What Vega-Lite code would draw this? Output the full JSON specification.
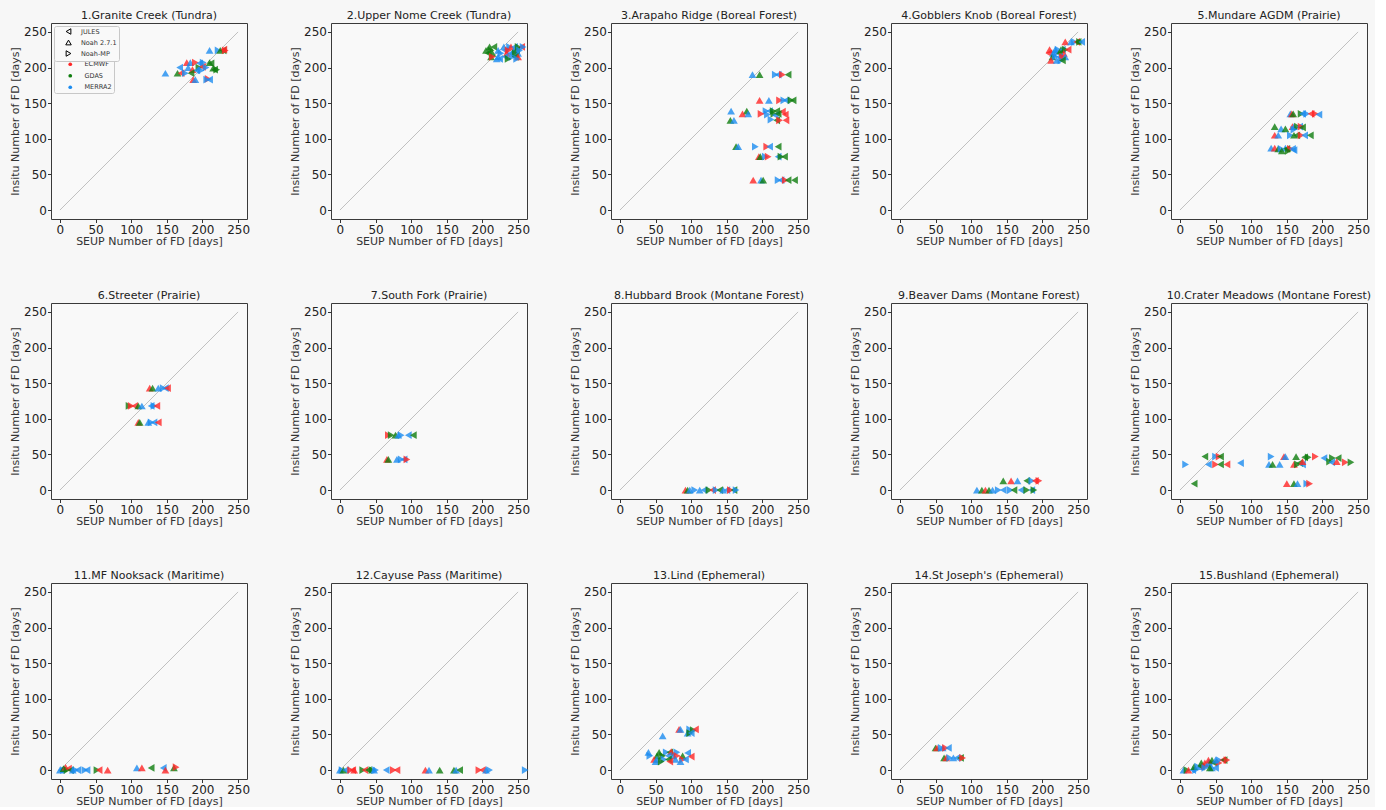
{
"$schema": "https://vega.github.io/schema/vega-lite/v6.json",
"background": "#f7f7f7",
"padding": {"left": 9, "top": 9, "right": 3, "bottom": 0},
"datasets": {
"diag": [{"x": 0, "y": 0}, {"x": 250, "y": 250}],
"pts": [
{"p":1,"m":"N","f":"R","x":210,"y":224},{"p":1,"m":"M","f":"R","x":222,"y":224},{"p":1,"m":"N","f":"G","x":225,"y":224},{"p":1,"m":"J","f":"G","x":229,"y":224},{"p":1,"m":"M","f":"E","x":232,"y":224},{"p":1,"m":"J","f":"E","x":230,"y":225},
{"p":1,"m":"N","f":"E","x":178,"y":207},{"p":1,"m":"N","f":"R","x":183,"y":207},{"p":1,"m":"M","f":"E","x":190,"y":207},{"p":1,"m":"J","f":"R","x":196,"y":206},{"p":1,"m":"M","f":"R","x":201,"y":207},{"p":1,"m":"N","f":"G","x":210,"y":207},{"p":1,"m":"J","f":"G","x":212,"y":206},
{"p":1,"m":"J","f":"R","x":168,"y":200},{"p":1,"m":"N","f":"R","x":180,"y":200},{"p":1,"m":"M","f":"G","x":195,"y":200},{"p":1,"m":"J","f":"E","x":200,"y":201},{"p":1,"m":"M","f":"R","x":205,"y":200},{"p":1,"m":"N","f":"G","x":215,"y":199},
{"p":1,"m":"M","f":"G","x":220,"y":197},{"p":1,"m":"J","f":"G","x":217,"y":197},{"p":1,"m":"N","f":"E","x":186,"y":197},{"p":1,"m":"J","f":"R","x":192,"y":196},{"p":1,"m":"M","f":"R","x":198,"y":196},
{"p":1,"m":"N","f":"R","x":148,"y":192},{"p":1,"m":"N","f":"G","x":165,"y":192},{"p":1,"m":"J","f":"E","x":170,"y":192},{"p":1,"m":"M","f":"R","x":176,"y":192},{"p":1,"m":"J","f":"G","x":184,"y":192},
{"p":1,"m":"N","f":"E","x":187,"y":183},{"p":1,"m":"N","f":"R","x":190,"y":183},{"p":1,"m":"M","f":"E","x":208,"y":184},{"p":1,"m":"M","f":"R","x":206,"y":183},{"p":1,"m":"J","f":"R","x":210,"y":183},

{"p":2,"m":"N","f":"G","x":210,"y":229},{"p":2,"m":"J","f":"G","x":216,"y":229},{"p":2,"m":"N","f":"R","x":230,"y":229},{"p":2,"m":"M","f":"R","x":238,"y":229},{"p":2,"m":"N","f":"E","x":240,"y":229},{"p":2,"m":"J","f":"R","x":245,"y":229},{"p":2,"m":"M","f":"G","x":250,"y":229},{"p":2,"m":"J","f":"E","x":255,"y":229},{"p":2,"m":"M","f":"R","x":257,"y":229},
{"p":2,"m":"N","f":"G","x":205,"y":224},{"p":2,"m":"M","f":"G","x":212,"y":224},{"p":2,"m":"N","f":"R","x":222,"y":224},{"p":2,"m":"J","f":"R","x":232,"y":224},{"p":2,"m":"M","f":"E","x":236,"y":224},{"p":2,"m":"N","f":"R","x":244,"y":224},{"p":2,"m":"J","f":"G","x":248,"y":224},{"p":2,"m":"M","f":"R","x":252,"y":224},
{"p":2,"m":"J","f":"G","x":208,"y":220},{"p":2,"m":"N","f":"G","x":214,"y":220},{"p":2,"m":"M","f":"R","x":226,"y":220},{"p":2,"m":"N","f":"E","x":234,"y":220},{"p":2,"m":"J","f":"R","x":240,"y":220},{"p":2,"m":"M","f":"G","x":246,"y":220},{"p":2,"m":"N","f":"R","x":250,"y":220},
{"p":2,"m":"N","f":"G","x":212,"y":215},{"p":2,"m":"M","f":"E","x":214,"y":215},{"p":2,"m":"N","f":"R","x":222,"y":215},{"p":2,"m":"J","f":"R","x":232,"y":215},{"p":2,"m":"M","f":"R","x":242,"y":215},{"p":2,"m":"J","f":"G","x":246,"y":215},{"p":2,"m":"N","f":"E","x":250,"y":215},
{"p":2,"m":"N","f":"R","x":220,"y":212},{"p":2,"m":"J","f":"R","x":224,"y":212},{"p":2,"m":"M","f":"G","x":236,"y":212},{"p":2,"m":"M","f":"R","x":248,"y":212},

{"p":3,"m":"N","f":"R","x":186,"y":190},{"p":3,"m":"N","f":"G","x":196,"y":190},{"p":3,"m":"M","f":"R","x":218,"y":190},{"p":3,"m":"J","f":"R","x":222,"y":190},{"p":3,"m":"M","f":"E","x":228,"y":190},{"p":3,"m":"J","f":"G","x":236,"y":190},
{"p":3,"m":"N","f":"E","x":196,"y":154},{"p":3,"m":"N","f":"R","x":209,"y":154},{"p":3,"m":"M","f":"E","x":224,"y":154},{"p":3,"m":"M","f":"R","x":230,"y":154},{"p":3,"m":"J","f":"R","x":233,"y":154},{"p":3,"m":"M","f":"G","x":240,"y":154},{"p":3,"m":"J","f":"G","x":243,"y":154},
{"p":3,"m":"N","f":"R","x":156,"y":139},{"p":3,"m":"N","f":"G","x":178,"y":139},{"p":3,"m":"M","f":"R","x":205,"y":139},{"p":3,"m":"J","f":"R","x":210,"y":139},{"p":3,"m":"M","f":"G","x":215,"y":139},{"p":3,"m":"J","f":"G","x":220,"y":139},{"p":3,"m":"J","f":"E","x":228,"y":138},
{"p":3,"m":"N","f":"E","x":172,"y":135},{"p":3,"m":"N","f":"R","x":180,"y":135},{"p":3,"m":"M","f":"E","x":198,"y":135},{"p":3,"m":"M","f":"R","x":207,"y":134},{"p":3,"m":"M","f":"G","x":216,"y":135},{"p":3,"m":"J","f":"R","x":218,"y":133},{"p":3,"m":"J","f":"G","x":222,"y":135},{"p":3,"m":"J","f":"E","x":232,"y":134},
{"p":3,"m":"N","f":"G","x":155,"y":126},{"p":3,"m":"N","f":"R","x":160,"y":126},{"p":3,"m":"M","f":"R","x":212,"y":127},{"p":3,"m":"J","f":"G","x":220,"y":126},{"p":3,"m":"M","f":"E","x":224,"y":126},{"p":3,"m":"J","f":"E","x":233,"y":126},
{"p":3,"m":"N","f":"G","x":163,"y":89},{"p":3,"m":"N","f":"R","x":166,"y":89},{"p":3,"m":"M","f":"R","x":190,"y":89},{"p":3,"m":"M","f":"E","x":206,"y":89},{"p":3,"m":"J","f":"R","x":210,"y":89},{"p":3,"m":"J","f":"G","x":222,"y":89},
{"p":3,"m":"N","f":"E","x":195,"y":75},{"p":3,"m":"N","f":"G","x":197,"y":75},{"p":3,"m":"M","f":"R","x":204,"y":75},{"p":3,"m":"M","f":"E","x":208,"y":75},{"p":3,"m":"J","f":"R","x":222,"y":75},{"p":3,"m":"M","f":"G","x":226,"y":75},{"p":3,"m":"J","f":"G","x":231,"y":75},
{"p":3,"m":"N","f":"E","x":187,"y":42},{"p":3,"m":"N","f":"R","x":198,"y":42},{"p":3,"m":"N","f":"G","x":201,"y":42},{"p":3,"m":"M","f":"R","x":222,"y":42},{"p":3,"m":"J","f":"R","x":226,"y":42},{"p":3,"m":"M","f":"E","x":232,"y":42},{"p":3,"m":"J","f":"G","x":236,"y":42},{"p":3,"m":"J","f":"G","x":245,"y":42},

{"p":4,"m":"N","f":"E","x":232,"y":236},{"p":4,"m":"N","f":"R","x":240,"y":236},{"p":4,"m":"M","f":"R","x":245,"y":236},{"p":4,"m":"J","f":"E","x":248,"y":236},{"p":4,"m":"J","f":"G","x":250,"y":236},{"p":4,"m":"M","f":"G","x":252,"y":236},{"p":4,"m":"J","f":"R","x":255,"y":236},
{"p":4,"m":"N","f":"E","x":210,"y":225},{"p":4,"m":"N","f":"R","x":218,"y":225},{"p":4,"m":"M","f":"R","x":222,"y":225},{"p":4,"m":"N","f":"G","x":226,"y":225},{"p":4,"m":"J","f":"R","x":228,"y":225},{"p":4,"m":"M","f":"G","x":232,"y":225},{"p":4,"m":"J","f":"E","x":236,"y":225},
{"p":4,"m":"J","f":"E","x":209,"y":220},{"p":4,"m":"N","f":"R","x":215,"y":220},{"p":4,"m":"M","f":"R","x":220,"y":220},{"p":4,"m":"J","f":"G","x":224,"y":220},{"p":4,"m":"N","f":"E","x":230,"y":220},
{"p":4,"m":"N","f":"G","x":214,"y":215},{"p":4,"m":"M","f":"R","x":218,"y":215},{"p":4,"m":"J","f":"R","x":224,"y":215},{"p":4,"m":"M","f":"E","x":228,"y":215},{"p":4,"m":"N","f":"R","x":232,"y":215},
{"p":4,"m":"N","f":"E","x":212,"y":210},{"p":4,"m":"N","f":"R","x":220,"y":210},{"p":4,"m":"M","f":"R","x":226,"y":210},{"p":4,"m":"J","f":"G","x":228,"y":210},

{"p":5,"m":"N","f":"R","x":155,"y":135},{"p":5,"m":"N","f":"E","x":157,"y":135},{"p":5,"m":"N","f":"G","x":159,"y":135},{"p":5,"m":"M","f":"G","x":170,"y":135},{"p":5,"m":"J","f":"R","x":172,"y":135},{"p":5,"m":"M","f":"R","x":178,"y":135},{"p":5,"m":"J","f":"E","x":184,"y":135},{"p":5,"m":"M","f":"E","x":190,"y":135},{"p":5,"m":"J","f":"R","x":195,"y":134},
{"p":5,"m":"N","f":"G","x":133,"y":117},{"p":5,"m":"N","f":"E","x":158,"y":117},{"p":5,"m":"N","f":"R","x":160,"y":117},{"p":5,"m":"M","f":"G","x":165,"y":117},{"p":5,"m":"J","f":"R","x":168,"y":117},{"p":5,"m":"M","f":"E","x":170,"y":117},{"p":5,"m":"J","f":"G","x":172,"y":116},
{"p":5,"m":"N","f":"R","x":142,"y":114},{"p":5,"m":"N","f":"G","x":148,"y":114},{"p":5,"m":"M","f":"R","x":160,"y":113},
{"p":5,"m":"N","f":"E","x":133,"y":105},{"p":5,"m":"N","f":"R","x":138,"y":105},{"p":5,"m":"M","f":"R","x":155,"y":105},{"p":5,"m":"N","f":"G","x":160,"y":105},{"p":5,"m":"J","f":"G","x":164,"y":105},{"p":5,"m":"M","f":"E","x":170,"y":105},{"p":5,"m":"J","f":"R","x":175,"y":105},{"p":5,"m":"J","f":"G","x":183,"y":105},
{"p":5,"m":"N","f":"R","x":128,"y":87},{"p":5,"m":"N","f":"E","x":133,"y":87},{"p":5,"m":"N","f":"G","x":138,"y":86},{"p":5,"m":"M","f":"R","x":142,"y":86},{"p":5,"m":"N","f":"R","x":148,"y":87},{"p":5,"m":"J","f":"G","x":150,"y":86},{"p":5,"m":"M","f":"E","x":155,"y":86},{"p":5,"m":"J","f":"R","x":158,"y":86},
{"p":5,"m":"N","f":"G","x":143,"y":83},{"p":5,"m":"M","f":"G","x":152,"y":83},{"p":5,"m":"J","f":"R","x":160,"y":84},

{"p":6,"m":"N","f":"E","x":126,"y":143},{"p":6,"m":"N","f":"G","x":130,"y":143},{"p":6,"m":"N","f":"R","x":138,"y":143},{"p":6,"m":"M","f":"R","x":145,"y":143},{"p":6,"m":"J","f":"R","x":148,"y":143},{"p":6,"m":"J","f":"E","x":151,"y":143},
{"p":6,"m":"M","f":"G","x":97,"y":118},{"p":6,"m":"M","f":"E","x":100,"y":118},{"p":6,"m":"J","f":"E","x":105,"y":118},{"p":6,"m":"N","f":"G","x":110,"y":118},{"p":6,"m":"N","f":"R","x":115,"y":118},{"p":6,"m":"J","f":"R","x":128,"y":118},{"p":6,"m":"M","f":"R","x":132,"y":118},{"p":6,"m":"J","f":"E","x":136,"y":118},
{"p":6,"m":"N","f":"E","x":110,"y":95},{"p":6,"m":"N","f":"G","x":112,"y":95},{"p":6,"m":"N","f":"R","x":124,"y":95},{"p":6,"m":"M","f":"R","x":128,"y":95},{"p":6,"m":"J","f":"R","x":132,"y":95},{"p":6,"m":"J","f":"E","x":138,"y":95},

{"p":7,"m":"M","f":"E","x":68,"y":77},{"p":7,"m":"M","f":"G","x":72,"y":77},{"p":7,"m":"N","f":"G","x":78,"y":77},{"p":7,"m":"N","f":"R","x":82,"y":77},{"p":7,"m":"M","f":"R","x":86,"y":77},{"p":7,"m":"J","f":"R","x":96,"y":77},{"p":7,"m":"J","f":"G","x":103,"y":77},
{"p":7,"m":"N","f":"E","x":66,"y":43},{"p":7,"m":"N","f":"G","x":68,"y":43},{"p":7,"m":"N","f":"R","x":80,"y":43},{"p":7,"m":"M","f":"R","x":86,"y":43},{"p":7,"m":"J","f":"R","x":90,"y":43},{"p":7,"m":"M","f":"E","x":94,"y":43},

{"p":8,"m":"N","f":"E","x":92,"y":0},{"p":8,"m":"N","f":"G","x":95,"y":0},{"p":8,"m":"N","f":"R","x":98,"y":0},{"p":8,"m":"M","f":"R","x":105,"y":0},{"p":8,"m":"N","f":"R","x":112,"y":0},{"p":8,"m":"J","f":"R","x":118,"y":0},{"p":8,"m":"M","f":"G","x":125,"y":0},{"p":8,"m":"J","f":"E","x":130,"y":0},{"p":8,"m":"M","f":"R","x":135,"y":0},{"p":8,"m":"J","f":"G","x":140,"y":0},{"p":8,"m":"N","f":"R","x":145,"y":0},{"p":8,"m":"J","f":"R","x":150,"y":0},{"p":8,"m":"M","f":"E","x":155,"y":0},{"p":8,"m":"J","f":"G","x":160,"y":0},{"p":8,"m":"M","f":"R","x":163,"y":0},

{"p":9,"m":"N","f":"G","x":145,"y":13},{"p":9,"m":"N","f":"E","x":156,"y":13},{"p":9,"m":"N","f":"R","x":165,"y":13},{"p":9,"m":"J","f":"G","x":178,"y":13},{"p":9,"m":"M","f":"R","x":185,"y":13},{"p":9,"m":"J","f":"E","x":190,"y":13},{"p":9,"m":"M","f":"E","x":195,"y":13},
{"p":9,"m":"N","f":"R","x":108,"y":0},{"p":9,"m":"N","f":"G","x":115,"y":0},{"p":9,"m":"N","f":"E","x":120,"y":0},{"p":9,"m":"N","f":"G","x":125,"y":0},{"p":9,"m":"N","f":"R","x":130,"y":0},{"p":9,"m":"M","f":"R","x":138,"y":0},{"p":9,"m":"J","f":"R","x":145,"y":0},{"p":9,"m":"M","f":"R","x":155,"y":0},{"p":9,"m":"J","f":"G","x":160,"y":0},{"p":9,"m":"J","f":"R","x":170,"y":0},{"p":9,"m":"M","f":"G","x":178,"y":0},{"p":9,"m":"J","f":"R","x":185,"y":0},{"p":9,"m":"M","f":"G","x":188,"y":0},

{"p":10,"m":"J","f":"G","x":35,"y":47},{"p":10,"m":"M","f":"R","x":50,"y":47},{"p":10,"m":"M","f":"E","x":55,"y":47},{"p":10,"m":"J","f":"G","x":57,"y":47},{"p":10,"m":"M","f":"R","x":128,"y":47},{"p":10,"m":"N","f":"E","x":146,"y":47},{"p":10,"m":"N","f":"R","x":148,"y":47},{"p":10,"m":"N","f":"G","x":163,"y":47},{"p":10,"m":"J","f":"G","x":175,"y":46},{"p":10,"m":"M","f":"G","x":180,"y":46},{"p":10,"m":"M","f":"E","x":190,"y":47},{"p":10,"m":"J","f":"R","x":202,"y":45},{"p":10,"m":"M","f":"G","x":214,"y":45},{"p":10,"m":"J","f":"G","x":222,"y":45},
{"p":10,"m":"M","f":"R","x":8,"y":36},{"p":10,"m":"J","f":"R","x":40,"y":36},{"p":10,"m":"M","f":"E","x":50,"y":36},{"p":10,"m":"J","f":"G","x":57,"y":36},{"p":10,"m":"J","f":"E","x":66,"y":36},{"p":10,"m":"J","f":"R","x":85,"y":38},{"p":10,"m":"N","f":"R","x":125,"y":36},{"p":10,"m":"N","f":"G","x":130,"y":36},{"p":10,"m":"N","f":"R","x":140,"y":36},{"p":10,"m":"N","f":"E","x":160,"y":36},{"p":10,"m":"M","f":"G","x":165,"y":36},{"p":10,"m":"J","f":"G","x":168,"y":38},{"p":10,"m":"J","f":"R","x":172,"y":36},{"p":10,"m":"N","f":"E","x":172,"y":40},{"p":10,"m":"M","f":"G","x":210,"y":40},{"p":10,"m":"J","f":"R","x":213,"y":39},{"p":10,"m":"N","f":"E","x":220,"y":40},{"p":10,"m":"M","f":"E","x":232,"y":39},{"p":10,"m":"M","f":"G","x":240,"y":39},
{"p":10,"m":"J","f":"G","x":20,"y":9},{"p":10,"m":"N","f":"E","x":150,"y":9},{"p":10,"m":"N","f":"G","x":160,"y":9},{"p":10,"m":"N","f":"R","x":165,"y":9},{"p":10,"m":"M","f":"R","x":178,"y":9},{"p":10,"m":"M","f":"E","x":182,"y":9},

{"p":11,"m":"N","f":"R","x":0,"y":0},{"p":11,"m":"J","f":"R","x":2,"y":0},{"p":11,"m":"M","f":"R","x":5,"y":0},{"p":11,"m":"N","f":"G","x":5,"y":2},{"p":11,"m":"N","f":"E","x":8,"y":4},{"p":11,"m":"M","f":"G","x":10,"y":0},{"p":11,"m":"J","f":"E","x":12,"y":2},{"p":11,"m":"J","f":"G","x":15,"y":0},{"p":11,"m":"N","f":"R","x":18,"y":0},{"p":11,"m":"M","f":"R","x":22,"y":0},{"p":11,"m":"J","f":"R","x":25,"y":0},{"p":11,"m":"M","f":"R","x":35,"y":0},{"p":11,"m":"J","f":"R","x":38,"y":0},{"p":11,"m":"M","f":"G","x":52,"y":0},{"p":11,"m":"J","f":"E","x":55,"y":0},{"p":11,"m":"N","f":"E","x":67,"y":0},{"p":11,"m":"N","f":"R","x":108,"y":3},{"p":11,"m":"N","f":"E","x":115,"y":3},{"p":11,"m":"J","f":"G","x":128,"y":3},{"p":11,"m":"J","f":"R","x":145,"y":3},{"p":11,"m":"N","f":"E","x":148,"y":0},{"p":11,"m":"N","f":"G","x":160,"y":3},{"p":11,"m":"M","f":"E","x":163,"y":4},

{"p":12,"m":"N","f":"R","x":0,"y":0},{"p":12,"m":"M","f":"R","x":3,"y":0},{"p":12,"m":"N","f":"G","x":5,"y":0},{"p":12,"m":"J","f":"R","x":8,"y":0},{"p":12,"m":"M","f":"E","x":15,"y":0},{"p":12,"m":"J","f":"E","x":18,"y":0},{"p":12,"m":"N","f":"E","x":20,"y":0},{"p":12,"m":"M","f":"G","x":32,"y":0},{"p":12,"m":"J","f":"E","x":35,"y":0},{"p":12,"m":"J","f":"G","x":40,"y":0},{"p":12,"m":"M","f":"G","x":45,"y":0},{"p":12,"m":"N","f":"R","x":48,"y":0},{"p":12,"m":"M","f":"R","x":50,"y":0},{"p":12,"m":"J","f":"R","x":65,"y":0},{"p":12,"m":"M","f":"E","x":75,"y":0},{"p":12,"m":"J","f":"E","x":80,"y":0},{"p":12,"m":"N","f":"E","x":120,"y":0},{"p":12,"m":"N","f":"R","x":125,"y":0},{"p":12,"m":"N","f":"G","x":140,"y":0},{"p":12,"m":"N","f":"G","x":160,"y":0},{"p":12,"m":"N","f":"R","x":163,"y":0},{"p":12,"m":"J","f":"G","x":168,"y":0},{"p":12,"m":"M","f":"E","x":195,"y":0},{"p":12,"m":"J","f":"E","x":200,"y":0},{"p":12,"m":"N","f":"R","x":205,"y":0},{"p":12,"m":"M","f":"R","x":210,"y":0},{"p":12,"m":"M","f":"R","x":260,"y":0},

{"p":13,"m":"N","f":"E","x":83,"y":57},{"p":13,"m":"N","f":"R","x":85,"y":57},{"p":13,"m":"M","f":"R","x":98,"y":57},{"p":13,"m":"M","f":"G","x":103,"y":56},{"p":13,"m":"J","f":"E","x":106,"y":57},
{"p":13,"m":"N","f":"R","x":95,"y":52},{"p":13,"m":"M","f":"G","x":98,"y":52},{"p":13,"m":"J","f":"R","x":100,"y":52},
{"p":13,"m":"N","f":"R","x":60,"y":48},
{"p":13,"m":"N","f":"R","x":40,"y":25},{"p":13,"m":"N","f":"G","x":55,"y":25},{"p":13,"m":"M","f":"R","x":65,"y":25},{"p":13,"m":"J","f":"G","x":70,"y":25},{"p":13,"m":"N","f":"E","x":72,"y":26},{"p":13,"m":"M","f":"R","x":80,"y":25},{"p":13,"m":"J","f":"R","x":95,"y":24},
{"p":13,"m":"M","f":"R","x":42,"y":20},{"p":13,"m":"N","f":"G","x":52,"y":20},{"p":13,"m":"M","f":"G","x":60,"y":20},{"p":13,"m":"J","f":"R","x":68,"y":20},{"p":13,"m":"N","f":"R","x":75,"y":20},{"p":13,"m":"M","f":"E","x":80,"y":20},{"p":13,"m":"N","f":"G","x":88,"y":20},{"p":13,"m":"J","f":"E","x":100,"y":19},
{"p":13,"m":"N","f":"E","x":48,"y":15},{"p":13,"m":"N","f":"R","x":52,"y":15},{"p":13,"m":"M","f":"R","x":62,"y":15},{"p":13,"m":"J","f":"G","x":68,"y":15},{"p":13,"m":"N","f":"R","x":78,"y":15},{"p":13,"m":"M","f":"E","x":88,"y":15},{"p":13,"m":"J","f":"R","x":92,"y":15},
{"p":13,"m":"N","f":"R","x":50,"y":12},{"p":13,"m":"M","f":"G","x":58,"y":12},{"p":13,"m":"J","f":"E","x":70,"y":12},{"p":13,"m":"N","f":"R","x":85,"y":12},

{"p":14,"m":"N","f":"G","x":50,"y":31},{"p":14,"m":"N","f":"E","x":52,"y":31},{"p":14,"m":"M","f":"R","x":58,"y":31},{"p":14,"m":"N","f":"R","x":60,"y":31},{"p":14,"m":"M","f":"E","x":64,"y":31},{"p":14,"m":"J","f":"R","x":68,"y":31},
{"p":14,"m":"N","f":"G","x":62,"y":17},{"p":14,"m":"N","f":"E","x":65,"y":17},{"p":14,"m":"M","f":"R","x":70,"y":17},{"p":14,"m":"N","f":"R","x":75,"y":17},{"p":14,"m":"J","f":"R","x":80,"y":17},{"p":14,"m":"J","f":"G","x":85,"y":17},{"p":14,"m":"M","f":"E","x":88,"y":17},

{"p":15,"m":"N","f":"R","x":5,"y":0},{"p":15,"m":"M","f":"G","x":10,"y":0},{"p":15,"m":"N","f":"E","x":12,"y":0},{"p":15,"m":"J","f":"R","x":18,"y":0},{"p":15,"m":"M","f":"R","x":22,"y":0},
{"p":15,"m":"N","f":"G","x":20,"y":5},{"p":15,"m":"M","f":"R","x":25,"y":5},{"p":15,"m":"N","f":"R","x":28,"y":5},{"p":15,"m":"J","f":"G","x":30,"y":5},{"p":15,"m":"M","f":"E","x":35,"y":5},{"p":15,"m":"J","f":"R","x":40,"y":5},
{"p":15,"m":"N","f":"G","x":30,"y":10},{"p":15,"m":"N","f":"E","x":35,"y":10},{"p":15,"m":"N","f":"R","x":40,"y":10},{"p":15,"m":"M","f":"R","x":45,"y":10},{"p":15,"m":"J","f":"G","x":48,"y":10},{"p":15,"m":"M","f":"E","x":55,"y":10},
{"p":15,"m":"N","f":"E","x":40,"y":14},{"p":15,"m":"N","f":"G","x":45,"y":14},{"p":15,"m":"N","f":"R","x":50,"y":14},{"p":15,"m":"M","f":"R","x":55,"y":14},{"p":15,"m":"J","f":"E","x":60,"y":14},{"p":15,"m":"J","f":"G","x":62,"y":14},{"p":15,"m":"M","f":"E","x":66,"y":14},
{"p":15,"m":"N","f":"R","x":45,"y":3},{"p":15,"m":"J","f":"R","x":50,"y":3},{"p":15,"m":"M","f":"R","x":35,"y":3},{"p":15,"m":"N","f":"G","x":42,"y":3}
]
},
"columns": 5,
"spacing": {"row": 84, "column": 84},
"bounds": "flush",
"resolve": {"legend": {"shape": "independent", "color": "independent"}},
"concat": [
{"title": "1.Granite Creek (Tundra)", "width": 196, "height": 196,
 "encoding": {"x": {"field": "x", "type": "quantitative", "scale": {"domain": [-12.5, 262.5], "nice": false, "zero": false}, "axis": {"title": "SEUP Number of FD [days]", "values": [0,50,100,150,200,250]}}, "y": {"field": "y", "type": "quantitative", "scale": {"domain": [-12.5, 262.5], "nice": false, "zero": false}, "axis": {"title": "Insitu Number of FD [days]", "values": [0,50,100,150,200,250]}}},
 "layer": [
  {"data": {"name": "diag"}, "mark": {"type": "line", "color": "#a8a8a8", "strokeWidth": 0.7}},
  {"data": {"name": "pts"}, "transform": [{"filter": "datum.p == 1"}], "mark": {"type": "point", "filled": true, "opacity": 0.8, "size": 60},
   "encoding": {
    "shape": {"field": "m", "type": "nominal", "scale": {"domain": ["J","N","M"], "range": ["triangle-left","triangle-up","triangle-right"]},
      "legend": {"orient": "none", "legendX": 3, "legendY": 3, "title": null, "padding": 2, "labelFontSize": 6.5, "labelColor": "#333", "labelOffset": 9, "symbolSize": 30, "symbolOffset": 9, "rowPadding": 1, "symbolFillColor": "transparent", "symbolStrokeColor": "#000", "symbolStrokeWidth": 1, "symbolOpacity": 1, "labelExpr": "datum.label == 'J' ? 'JULES' : datum.label == 'N' ? 'Noah 2.7.1' : 'Noah-MP'", "encode": {"symbols": {"update": {"fill": {"value": "transparent"}, "stroke": {"value": "#000"}, "strokeWidth": {"value": 1}, "opacity": {"value": 1}}}}}},
    "color": {"field": "f", "type": "nominal", "scale": {"domain": ["E","G","R"], "range": ["#ff2626","#0e7d0e","#1c8cf0"]},
      "legend": {"orient": "none", "legendX": 3, "legendY": 36, "title": null, "padding": 2, "labelFontSize": 6.5, "labelColor": "#333", "labelOffset": 11, "symbolType": "circle", "symbolSize": 14, "symbolOffset": 11, "rowPadding": 4.5, "symbolOpacity": 1, "labelExpr": "datum.label == 'E' ? 'ECMWF' : datum.label == 'G' ? 'GDAS' : 'MERRA2'", "encode": {"symbols": {"update": {"opacity": {"value": 1}}}}}}
   }}
 ]},
{"title": "2.Upper Nome Creek (Tundra)", "width": 196, "height": 196,
 "encoding": {"x": {"field": "x", "type": "quantitative", "scale": {"domain": [-12.5, 262.5], "nice": false, "zero": false}, "axis": {"title": "SEUP Number of FD [days]", "values": [0,50,100,150,200,250]}}, "y": {"field": "y", "type": "quantitative", "scale": {"domain": [-12.5, 262.5], "nice": false, "zero": false}, "axis": {"title": "Insitu Number of FD [days]", "values": [0,50,100,150,200,250]}}},
 "layer": [
  {"data": {"name": "diag"}, "mark": {"type": "line", "color": "#a8a8a8", "strokeWidth": 0.7}},
  {"data": {"name": "pts"}, "transform": [{"filter": "datum.p == 2"}], "mark": {"type": "point", "filled": true, "opacity": 0.8, "size": 60},
   "encoding": {"shape": {"field": "m", "type": "nominal", "scale": {"domain": ["J","N","M"], "range": ["triangle-left","triangle-up","triangle-right"]}, "legend": null}, "color": {"field": "f", "type": "nominal", "scale": {"domain": ["E","G","R"], "range": ["#ff2626","#0e7d0e","#1c8cf0"]}, "legend": null}}}
 ]},
{"title": "3.Arapaho Ridge (Boreal Forest)", "width": 196, "height": 196,
 "encoding": {"x": {"field": "x", "type": "quantitative", "scale": {"domain": [-12.5, 262.5], "nice": false, "zero": false}, "axis": {"title": "SEUP Number of FD [days]", "values": [0,50,100,150,200,250]}}, "y": {"field": "y", "type": "quantitative", "scale": {"domain": [-12.5, 262.5], "nice": false, "zero": false}, "axis": {"title": "Insitu Number of FD [days]", "values": [0,50,100,150,200,250]}}},
 "layer": [
  {"data": {"name": "diag"}, "mark": {"type": "line", "color": "#a8a8a8", "strokeWidth": 0.7}},
  {"data": {"name": "pts"}, "transform": [{"filter": "datum.p == 3"}], "mark": {"type": "point", "filled": true, "opacity": 0.8, "size": 60},
   "encoding": {"shape": {"field": "m", "type": "nominal", "scale": {"domain": ["J","N","M"], "range": ["triangle-left","triangle-up","triangle-right"]}, "legend": null}, "color": {"field": "f", "type": "nominal", "scale": {"domain": ["E","G","R"], "range": ["#ff2626","#0e7d0e","#1c8cf0"]}, "legend": null}}}
 ]},
{"title": "4.Gobblers Knob (Boreal Forest)", "width": 196, "height": 196,
 "encoding": {"x": {"field": "x", "type": "quantitative", "scale": {"domain": [-12.5, 262.5], "nice": false, "zero": false}, "axis": {"title": "SEUP Number of FD [days]", "values": [0,50,100,150,200,250]}}, "y": {"field": "y", "type": "quantitative", "scale": {"domain": [-12.5, 262.5], "nice": false, "zero": false}, "axis": {"title": "Insitu Number of FD [days]", "values": [0,50,100,150,200,250]}}},
 "layer": [
  {"data": {"name": "diag"}, "mark": {"type": "line", "color": "#a8a8a8", "strokeWidth": 0.7}},
  {"data": {"name": "pts"}, "transform": [{"filter": "datum.p == 4"}], "mark": {"type": "point", "filled": true, "opacity": 0.8, "size": 60},
   "encoding": {"shape": {"field": "m", "type": "nominal", "scale": {"domain": ["J","N","M"], "range": ["triangle-left","triangle-up","triangle-right"]}, "legend": null}, "color": {"field": "f", "type": "nominal", "scale": {"domain": ["E","G","R"], "range": ["#ff2626","#0e7d0e","#1c8cf0"]}, "legend": null}}}
 ]},
{"title": "5.Mundare AGDM (Prairie)", "width": 196, "height": 196,
 "encoding": {"x": {"field": "x", "type": "quantitative", "scale": {"domain": [-12.5, 262.5], "nice": false, "zero": false}, "axis": {"title": "SEUP Number of FD [days]", "values": [0,50,100,150,200,250]}}, "y": {"field": "y", "type": "quantitative", "scale": {"domain": [-12.5, 262.5], "nice": false, "zero": false}, "axis": {"title": "Insitu Number of FD [days]", "values": [0,50,100,150,200,250]}}},
 "layer": [
  {"data": {"name": "diag"}, "mark": {"type": "line", "color": "#a8a8a8", "strokeWidth": 0.7}},
  {"data": {"name": "pts"}, "transform": [{"filter": "datum.p == 5"}], "mark": {"type": "point", "filled": true, "opacity": 0.8, "size": 60},
   "encoding": {"shape": {"field": "m", "type": "nominal", "scale": {"domain": ["J","N","M"], "range": ["triangle-left","triangle-up","triangle-right"]}, "legend": null}, "color": {"field": "f", "type": "nominal", "scale": {"domain": ["E","G","R"], "range": ["#ff2626","#0e7d0e","#1c8cf0"]}, "legend": null}}}
 ]},
{"title": "6.Streeter (Prairie)", "width": 196, "height": 196,
 "encoding": {"x": {"field": "x", "type": "quantitative", "scale": {"domain": [-12.5, 262.5], "nice": false, "zero": false}, "axis": {"title": "SEUP Number of FD [days]", "values": [0,50,100,150,200,250]}}, "y": {"field": "y", "type": "quantitative", "scale": {"domain": [-12.5, 262.5], "nice": false, "zero": false}, "axis": {"title": "Insitu Number of FD [days]", "values": [0,50,100,150,200,250]}}},
 "layer": [
  {"data": {"name": "diag"}, "mark": {"type": "line", "color": "#a8a8a8", "strokeWidth": 0.7}},
  {"data": {"name": "pts"}, "transform": [{"filter": "datum.p == 6"}], "mark": {"type": "point", "filled": true, "opacity": 0.8, "size": 60},
   "encoding": {"shape": {"field": "m", "type": "nominal", "scale": {"domain": ["J","N","M"], "range": ["triangle-left","triangle-up","triangle-right"]}, "legend": null}, "color": {"field": "f", "type": "nominal", "scale": {"domain": ["E","G","R"], "range": ["#ff2626","#0e7d0e","#1c8cf0"]}, "legend": null}}}
 ]},
{"title": "7.South Fork (Prairie)", "width": 196, "height": 196,
 "encoding": {"x": {"field": "x", "type": "quantitative", "scale": {"domain": [-12.5, 262.5], "nice": false, "zero": false}, "axis": {"title": "SEUP Number of FD [days]", "values": [0,50,100,150,200,250]}}, "y": {"field": "y", "type": "quantitative", "scale": {"domain": [-12.5, 262.5], "nice": false, "zero": false}, "axis": {"title": "Insitu Number of FD [days]", "values": [0,50,100,150,200,250]}}},
 "layer": [
  {"data": {"name": "diag"}, "mark": {"type": "line", "color": "#a8a8a8", "strokeWidth": 0.7}},
  {"data": {"name": "pts"}, "transform": [{"filter": "datum.p == 7"}], "mark": {"type": "point", "filled": true, "opacity": 0.8, "size": 60},
   "encoding": {"shape": {"field": "m", "type": "nominal", "scale": {"domain": ["J","N","M"], "range": ["triangle-left","triangle-up","triangle-right"]}, "legend": null}, "color": {"field": "f", "type": "nominal", "scale": {"domain": ["E","G","R"], "range": ["#ff2626","#0e7d0e","#1c8cf0"]}, "legend": null}}}
 ]},
{"title": "8.Hubbard Brook (Montane Forest)", "width": 196, "height": 196,
 "encoding": {"x": {"field": "x", "type": "quantitative", "scale": {"domain": [-12.5, 262.5], "nice": false, "zero": false}, "axis": {"title": "SEUP Number of FD [days]", "values": [0,50,100,150,200,250]}}, "y": {"field": "y", "type": "quantitative", "scale": {"domain": [-12.5, 262.5], "nice": false, "zero": false}, "axis": {"title": "Insitu Number of FD [days]", "values": [0,50,100,150,200,250]}}},
 "layer": [
  {"data": {"name": "diag"}, "mark": {"type": "line", "color": "#a8a8a8", "strokeWidth": 0.7}},
  {"data": {"name": "pts"}, "transform": [{"filter": "datum.p == 8"}], "mark": {"type": "point", "filled": true, "opacity": 0.8, "size": 60},
   "encoding": {"shape": {"field": "m", "type": "nominal", "scale": {"domain": ["J","N","M"], "range": ["triangle-left","triangle-up","triangle-right"]}, "legend": null}, "color": {"field": "f", "type": "nominal", "scale": {"domain": ["E","G","R"], "range": ["#ff2626","#0e7d0e","#1c8cf0"]}, "legend": null}}}
 ]},
{"title": "9.Beaver Dams (Montane Forest)", "width": 196, "height": 196,
 "encoding": {"x": {"field": "x", "type": "quantitative", "scale": {"domain": [-12.5, 262.5], "nice": false, "zero": false}, "axis": {"title": "SEUP Number of FD [days]", "values": [0,50,100,150,200,250]}}, "y": {"field": "y", "type": "quantitative", "scale": {"domain": [-12.5, 262.5], "nice": false, "zero": false}, "axis": {"title": "Insitu Number of FD [days]", "values": [0,50,100,150,200,250]}}},
 "layer": [
  {"data": {"name": "diag"}, "mark": {"type": "line", "color": "#a8a8a8", "strokeWidth": 0.7}},
  {"data": {"name": "pts"}, "transform": [{"filter": "datum.p == 9"}], "mark": {"type": "point", "filled": true, "opacity": 0.8, "size": 60},
   "encoding": {"shape": {"field": "m", "type": "nominal", "scale": {"domain": ["J","N","M"], "range": ["triangle-left","triangle-up","triangle-right"]}, "legend": null}, "color": {"field": "f", "type": "nominal", "scale": {"domain": ["E","G","R"], "range": ["#ff2626","#0e7d0e","#1c8cf0"]}, "legend": null}}}
 ]},
{"title": "10.Crater Meadows (Montane Forest)", "width": 196, "height": 196,
 "encoding": {"x": {"field": "x", "type": "quantitative", "scale": {"domain": [-12.5, 262.5], "nice": false, "zero": false}, "axis": {"title": "SEUP Number of FD [days]", "values": [0,50,100,150,200,250]}}, "y": {"field": "y", "type": "quantitative", "scale": {"domain": [-12.5, 262.5], "nice": false, "zero": false}, "axis": {"title": "Insitu Number of FD [days]", "values": [0,50,100,150,200,250]}}},
 "layer": [
  {"data": {"name": "diag"}, "mark": {"type": "line", "color": "#a8a8a8", "strokeWidth": 0.7}},
  {"data": {"name": "pts"}, "transform": [{"filter": "datum.p == 10"}], "mark": {"type": "point", "filled": true, "opacity": 0.8, "size": 60},
   "encoding": {"shape": {"field": "m", "type": "nominal", "scale": {"domain": ["J","N","M"], "range": ["triangle-left","triangle-up","triangle-right"]}, "legend": null}, "color": {"field": "f", "type": "nominal", "scale": {"domain": ["E","G","R"], "range": ["#ff2626","#0e7d0e","#1c8cf0"]}, "legend": null}}}
 ]},
{"title": "11.MF Nooksack (Maritime)", "width": 196, "height": 196,
 "encoding": {"x": {"field": "x", "type": "quantitative", "scale": {"domain": [-12.5, 262.5], "nice": false, "zero": false}, "axis": {"title": "SEUP Number of FD [days]", "values": [0,50,100,150,200,250]}}, "y": {"field": "y", "type": "quantitative", "scale": {"domain": [-12.5, 262.5], "nice": false, "zero": false}, "axis": {"title": "Insitu Number of FD [days]", "values": [0,50,100,150,200,250]}}},
 "layer": [
  {"data": {"name": "diag"}, "mark": {"type": "line", "color": "#a8a8a8", "strokeWidth": 0.7}},
  {"data": {"name": "pts"}, "transform": [{"filter": "datum.p == 11"}], "mark": {"type": "point", "filled": true, "opacity": 0.8, "size": 60},
   "encoding": {"shape": {"field": "m", "type": "nominal", "scale": {"domain": ["J","N","M"], "range": ["triangle-left","triangle-up","triangle-right"]}, "legend": null}, "color": {"field": "f", "type": "nominal", "scale": {"domain": ["E","G","R"], "range": ["#ff2626","#0e7d0e","#1c8cf0"]}, "legend": null}}}
 ]},
{"title": "12.Cayuse Pass (Maritime)", "width": 196, "height": 196,
 "encoding": {"x": {"field": "x", "type": "quantitative", "scale": {"domain": [-12.5, 262.5], "nice": false, "zero": false}, "axis": {"title": "SEUP Number of FD [days]", "values": [0,50,100,150,200,250]}}, "y": {"field": "y", "type": "quantitative", "scale": {"domain": [-12.5, 262.5], "nice": false, "zero": false}, "axis": {"title": "Insitu Number of FD [days]", "values": [0,50,100,150,200,250]}}},
 "layer": [
  {"data": {"name": "diag"}, "mark": {"type": "line", "color": "#a8a8a8", "strokeWidth": 0.7}},
  {"data": {"name": "pts"}, "transform": [{"filter": "datum.p == 12"}], "mark": {"type": "point", "filled": true, "opacity": 0.8, "size": 60},
   "encoding": {"shape": {"field": "m", "type": "nominal", "scale": {"domain": ["J","N","M"], "range": ["triangle-left","triangle-up","triangle-right"]}, "legend": null}, "color": {"field": "f", "type": "nominal", "scale": {"domain": ["E","G","R"], "range": ["#ff2626","#0e7d0e","#1c8cf0"]}, "legend": null}}}
 ]},
{"title": "13.Lind (Ephemeral)", "width": 196, "height": 196,
 "encoding": {"x": {"field": "x", "type": "quantitative", "scale": {"domain": [-12.5, 262.5], "nice": false, "zero": false}, "axis": {"title": "SEUP Number of FD [days]", "values": [0,50,100,150,200,250]}}, "y": {"field": "y", "type": "quantitative", "scale": {"domain": [-12.5, 262.5], "nice": false, "zero": false}, "axis": {"title": "Insitu Number of FD [days]", "values": [0,50,100,150,200,250]}}},
 "layer": [
  {"data": {"name": "diag"}, "mark": {"type": "line", "color": "#a8a8a8", "strokeWidth": 0.7}},
  {"data": {"name": "pts"}, "transform": [{"filter": "datum.p == 13"}], "mark": {"type": "point", "filled": true, "opacity": 0.8, "size": 60},
   "encoding": {"shape": {"field": "m", "type": "nominal", "scale": {"domain": ["J","N","M"], "range": ["triangle-left","triangle-up","triangle-right"]}, "legend": null}, "color": {"field": "f", "type": "nominal", "scale": {"domain": ["E","G","R"], "range": ["#ff2626","#0e7d0e","#1c8cf0"]}, "legend": null}}}
 ]},
{"title": "14.St Joseph's (Ephemeral)", "width": 196, "height": 196,
 "encoding": {"x": {"field": "x", "type": "quantitative", "scale": {"domain": [-12.5, 262.5], "nice": false, "zero": false}, "axis": {"title": "SEUP Number of FD [days]", "values": [0,50,100,150,200,250]}}, "y": {"field": "y", "type": "quantitative", "scale": {"domain": [-12.5, 262.5], "nice": false, "zero": false}, "axis": {"title": "Insitu Number of FD [days]", "values": [0,50,100,150,200,250]}}},
 "layer": [
  {"data": {"name": "diag"}, "mark": {"type": "line", "color": "#a8a8a8", "strokeWidth": 0.7}},
  {"data": {"name": "pts"}, "transform": [{"filter": "datum.p == 14"}], "mark": {"type": "point", "filled": true, "opacity": 0.8, "size": 60},
   "encoding": {"shape": {"field": "m", "type": "nominal", "scale": {"domain": ["J","N","M"], "range": ["triangle-left","triangle-up","triangle-right"]}, "legend": null}, "color": {"field": "f", "type": "nominal", "scale": {"domain": ["E","G","R"], "range": ["#ff2626","#0e7d0e","#1c8cf0"]}, "legend": null}}}
 ]},
{"title": "15.Bushland (Ephemeral)", "width": 196, "height": 196,
 "encoding": {"x": {"field": "x", "type": "quantitative", "scale": {"domain": [-12.5, 262.5], "nice": false, "zero": false}, "axis": {"title": "SEUP Number of FD [days]", "values": [0,50,100,150,200,250]}}, "y": {"field": "y", "type": "quantitative", "scale": {"domain": [-12.5, 262.5], "nice": false, "zero": false}, "axis": {"title": "Insitu Number of FD [days]", "values": [0,50,100,150,200,250]}}},
 "layer": [
  {"data": {"name": "diag"}, "mark": {"type": "line", "color": "#a8a8a8", "strokeWidth": 0.7}},
  {"data": {"name": "pts"}, "transform": [{"filter": "datum.p == 15"}], "mark": {"type": "point", "filled": true, "opacity": 0.8, "size": 60},
   "encoding": {"shape": {"field": "m", "type": "nominal", "scale": {"domain": ["J","N","M"], "range": ["triangle-left","triangle-up","triangle-right"]}, "legend": null}, "color": {"field": "f", "type": "nominal", "scale": {"domain": ["E","G","R"], "range": ["#ff2626","#0e7d0e","#1c8cf0"]}, "legend": null}}}
 ]}
],
"config": {
 "font": "DejaVu Sans",
 "view": {"stroke": "#3a3a3a", "strokeWidth": 1, "fill": "#f9f9f9"},
 "title": {"fontSize": 11, "font": "DejaVu Sans", "fontWeight": "normal", "color": "#222", "offset": 2},
 "axis": {"domain": false, "grid": false, "tickColor": "#333", "tickSize": 3.5, "labelFontSize": 12, "labelFont": "DejaVu Sans", "labelColor": "#222", "labelPadding": 1, "titleFontSize": 11, "titleFont": "DejaVu Sans", "titleFontWeight": "normal", "titleColor": "#333"},
 "axisX": {"titlePadding": 0, "labelPadding": 2},
 "axisY": {"titlePadding": 3},
 "legend": {"labelFont": "DejaVu Sans", "strokeColor": "#c8c8c8", "fillColor": "#f9f9f9", "cornerRadius": 2, "symbolBaseFillColor": "transparent", "symbolBaseStrokeColor": "#000"}
}
}
